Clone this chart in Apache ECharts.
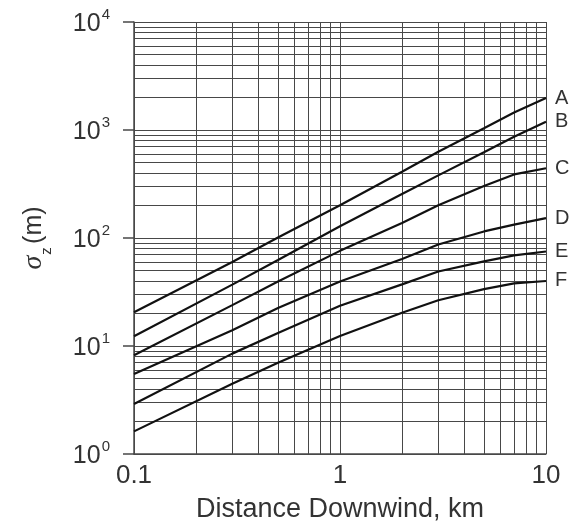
<!DOCTYPE html>
<html>
<head>
<meta charset="utf-8">
<script src="https://cdn.jsdelivr.net/npm/echarts@6/dist/echarts.min.js"></script>
<style>
  html, body { margin: 0; padding: 0; background: #fff; }
  #chart { width: 573px; height: 528px; }
</style>
</head>
<body>
<div id="chart"></div>
<script>
// downwind distance, km
var distance = [0.1, 0.3, 0.5, 1, 2, 3, 5, 7, 10]
// sigma z (m) per stability class
var classA = [20.5, 60, 101, 201, 410, 630, 1040, 1450, 1977]
var classB = [12.3, 37, 62.5, 128.5, 255, 380, 621, 865, 1194]
var classC = [8.2, 23.9, 39.5, 76, 138, 201, 303, 388, 442]
var classD = [5.5, 14.0, 22.5, 39.6, 64, 87, 115, 133, 153]
var classE = [2.9, 8.5, 13.2, 23.6, 37.2, 49, 60.7, 69, 75]
var classF = [1.62, 4.48, 7.0, 12.4, 20.3, 26.5, 33.6, 38, 40]
var classNames = ['A', 'B', 'C', 'D', 'E', 'F']

// log paper minor lines (2..9 in every decade)
var mantissas = [2, 3, 4, 5, 6, 7, 8, 9]
var xDecades = [0.1, 1]
var yDecades = [1, 10, 100, 1000]

var FONT = '"Liberation Sans", Arial, sans-serif'
var GRID_COLOR = '#484848'

var chart = echarts.init(document.getElementById('chart'))

var minorLines = []
xDecades.forEach(function(d) {
  mantissas.forEach(function(m) { minorLines.push({ xAxis: m * d }) })
})
yDecades.forEach(function(d) {
  mantissas.forEach(function(m) { minorLines.push({ yAxis: m * d }) })
})

function pairs(ys) {
  return distance.map(function(x, i) { return [x, ys[i]] })
}

var curves = [classA, classB, classC, classD, classE, classF].map(function(ys, i) {
  return {
    name: classNames[i],
    type: 'line',
    data: pairs(ys),
    showSymbol: false,
    z: 3,
    lineStyle: { color: '#111', width: 2.2 },
    endLabel: {
      show: true,
      formatter: '{a}',
      distance: 9,
      color: '#333',
      fontFamily: FONT,
      fontSize: 20
    },
    animation: false
  }
})

chart.setOption({
  animation: false,
  grid: { left: 134, right: 27, top: 22, bottom: 73 },
  xAxis: {
    type: 'log',
    logBase: 10,
    min: 0.1,
    max: 10,
    name: 'Distance Downwind, km',
    nameLocation: 'middle',
    nameGap: 42,
    nameTextStyle: { color: '#333', fontFamily: FONT, fontSize: 27 },
    axisLine: { show: true, lineStyle: { color: GRID_COLOR, width: 1.5 } },
    axisTick: { show: false },
    axisLabel: {
      margin: 9,
      color: '#333',
      fontFamily: FONT,
      fontSize: 26,
      formatter: function(v) { return String(+v.toPrecision(3)) }
    },
    splitLine: { show: true, lineStyle: { color: GRID_COLOR, width: 1 } }
  },
  yAxis: {
    type: 'log',
    logBase: 10,
    min: 1,
    max: 10000,
    name: '{s|σ}{z|z} {m|(m)}',
    nameLocation: 'middle',
    nameRotate: 90,
    nameGap: 86,
    nameTextStyle: {
      color: '#333',
      rich: {
        s: { fontFamily: '"Liberation Serif", serif', fontStyle: 'italic', fontSize: 28, color: '#333' },
        z: { fontFamily: FONT, fontSize: 15, color: '#333', verticalAlign: 'bottom', padding: [0, 0, -6, 1] },
        m: { fontFamily: FONT, fontSize: 25, color: '#333' }
      }
    },
    axisLine: { show: true, lineStyle: { color: GRID_COLOR, width: 1.5 } },
    axisTick: { show: true, inside: false, length: 11, lineStyle: { color: GRID_COLOR, width: 1.5 } },
    axisLabel: {
      margin: 24,
      formatter: function(v) {
        var e = Math.round(Math.log10(v))
        return '{b|10}{e|' + e + '}'
      },
      rich: {
        b: { fontFamily: FONT, fontSize: 25, color: '#333', lineHeight: 30, verticalAlign: 'bottom' },
        e: { fontFamily: FONT, fontSize: 15, color: '#333', verticalAlign: 'top', padding: [0, 0, 0, 1] }
      }
    },
    splitLine: { show: true, lineStyle: { color: GRID_COLOR, width: 1 } }
  },
  series: [{
    name: 'paper',
    type: 'line',
    data: [],
    z: 1,
    silent: true,
    markLine: {
      z: 1,
      silent: true,
      symbol: ['none', 'none'],
      label: { show: false },
      lineStyle: { color: GRID_COLOR, width: 1, type: 'solid' },
      emphasis: { disabled: true },
      animation: false,
      data: minorLines
    }
  }].concat(curves)
})
</script>
</body>
</html>
